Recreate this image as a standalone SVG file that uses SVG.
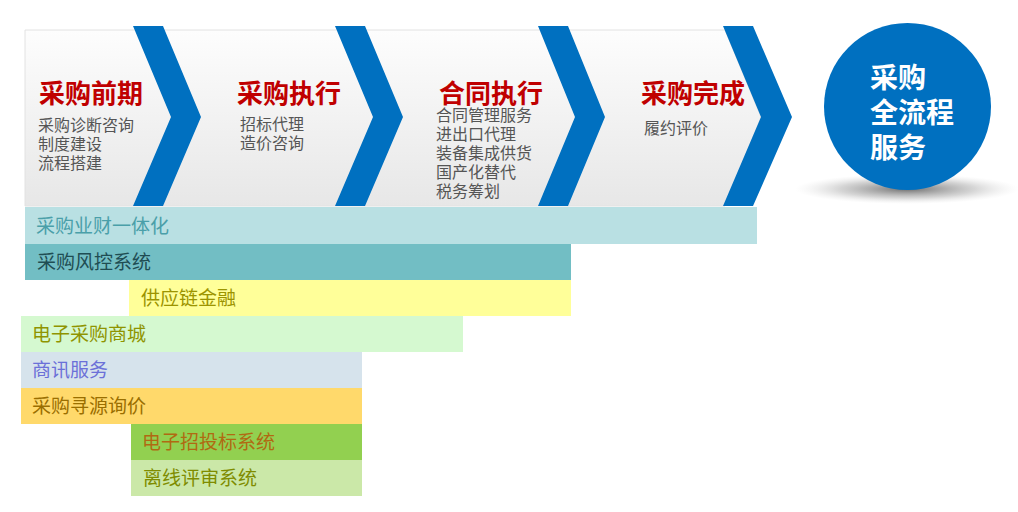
<svg xmlns="http://www.w3.org/2000/svg" width="1018" height="512" viewBox="0 0 1018 512">
<defs>
<linearGradient id="panelG" x1="0" y1="0" x2="0" y2="1">
<stop offset="0" stop-color="#fdfdfd"/>
<stop offset="1" stop-color="#e7e7e7"/>
</linearGradient>
<radialGradient id="shadowG" cx="0.5" cy="0.5" r="0.5">
<stop offset="0" stop-color="#555" stop-opacity="0.85"/>
<stop offset="0.6" stop-color="#888" stop-opacity="0.35"/>
<stop offset="1" stop-color="#ccc" stop-opacity="0"/>
</radialGradient>
</defs>
<style>
text{font-family:"Noto Sans CJK SC","Microsoft YaHei",sans-serif;}
.chev{fill:#0070c0;}
.title{font-size:26px;font-weight:bold;fill:#c00000;}
.sub{font-size:16px;fill:#555555;}
.bar{font-size:19px;}
.ctext{font-size:28px;font-weight:bold;fill:#ffffff;}
</style>
<rect width="1018" height="512" fill="#ffffff"/>
<g id="panel">
<polygon points="25,30 725,30 761,117 725,206 25,206" fill="url(#panelG)" stroke="#e2e2e2" stroke-width="1"/>
</g>
<g id="connectors">
<polygon class="chev" points="133,26 163,26 201,117 163,206 133,206 171,117"/>
<polygon class="chev" points="335,26 365,26 403,117 365,206 335,206 373,117"/>
<polygon class="chev" points="538,26 568,26 605,117 568,206 538,206 575,117"/>
<polygon class="chev" points="723,26 753,26 792,117 753,206 723,206 761,117"/>
</g>
<g id="stage1">
<text class="title" x="39" y="103">采购前期</text>
<text class="sub" x="38" y="131">采购诊断咨询</text>
<text class="sub" x="38" y="150">制度建设</text>
<text class="sub" x="38" y="169">流程搭建</text>
</g>
<g id="stage2">
<text class="title" x="237" y="103">采购执行</text>
<text class="sub" x="240" y="130">招标代理</text>
<text class="sub" x="240" y="149">造价咨询</text>
</g>
<g id="stage3">
<text class="title" x="439" y="103">合同执行</text>
<text class="sub" x="436" y="121">合同管理服务</text>
<text class="sub" x="436" y="140">进出口代理</text>
<text class="sub" x="436" y="159">装备集成供货</text>
<text class="sub" x="436" y="178">国产化替代</text>
<text class="sub" x="436" y="197">税务筹划</text>
</g>
<g id="stage4">
<text class="title" x="641" y="103">采购完成</text>
<text class="sub" x="644" y="134">履约评价</text>
</g>
<g id="circle">
<ellipse cx="907" cy="189" rx="112" ry="15" fill="url(#shadowG)"/>
<circle cx="907.5" cy="106.5" r="83.5" fill="#0070c0"/>
<text class="ctext" x="870" y="88">采购</text>
<text class="ctext" x="870" y="123">全流程</text>
<text class="ctext" x="870" y="158">服务</text>
</g>
<g id="bar1">
<rect x="25" y="207" width="732" height="37" fill="#b9e0e3"/>
<text class="bar" x="36" y="233" fill="#4a9fa9">采购业财一体化</text>
</g>
<g id="bar2">
<rect x="25" y="244" width="546" height="36" fill="#72bec4"/>
<text class="bar" x="37" y="269" fill="#1f4d53">采购风控系统</text>
</g>
<g id="bar3">
<rect x="129" y="280" width="442" height="36" fill="#ffff99"/>
<text class="bar" x="141" y="305" fill="#9c9400">供应链金融</text>
</g>
<g id="bar4">
<rect x="21" y="316" width="442" height="36" fill="#d5f9d0"/>
<text class="bar" x="32" y="341" fill="#8f9400">电子采购商城</text>
</g>
<g id="bar5">
<rect x="21" y="352" width="341" height="36" fill="#d6e3ec"/>
<text class="bar" x="32" y="377" fill="#6b70d8">商讯服务</text>
</g>
<g id="bar6">
<rect x="21" y="388" width="341" height="36" fill="#ffd96b"/>
<text class="bar" x="32" y="413" fill="#9a6e00">采购寻源询价</text>
</g>
<g id="bar7">
<rect x="131" y="424" width="231" height="36" fill="#92d050"/>
<text class="bar" x="142" y="449" fill="#b06a12">电子招投标系统</text>
</g>
<g id="bar8">
<rect x="131" y="460" width="231" height="36" fill="#cbe8a8"/>
<text class="bar" x="143" y="485" fill="#7f8c00">离线评审系统</text>
</g>
</svg>
